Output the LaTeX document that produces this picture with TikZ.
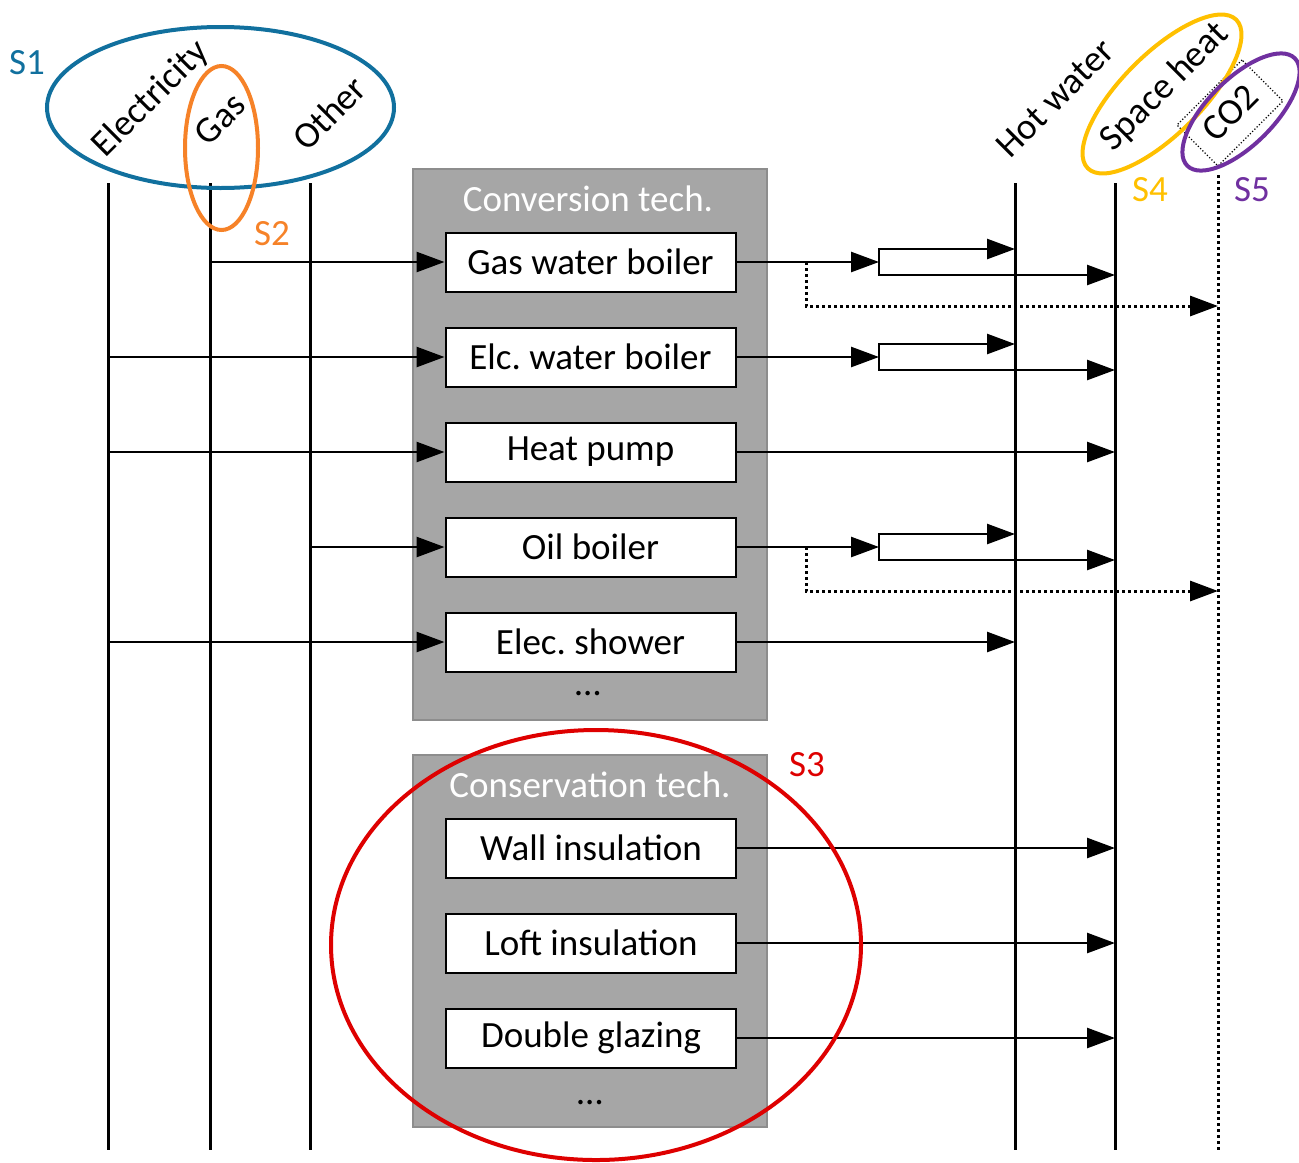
\documentclass[tikz,border=0pt]{standalone}
\usepackage{fontspec}
\setmainfont{Carlito}
\frenchspacing
\usetikzlibrary{arrows.meta,positioning,calc}
\definecolor{grpgray}{RGB}{166,166,166}
\definecolor{sOne}{RGB}{17,112,158}
\definecolor{sTwo}{RGB}{246,130,40}
\definecolor{sThree}{RGB}{222,0,0}
\definecolor{sFour}{RGB}{255,192,0}
\definecolor{sFive}{RGB}{112,48,160}
\tikzset{
tech/.style = {draw, fill=white, line width=1pt, rectangle, minimum height=29.5pt, minimum width=145pt, inner sep=0pt},
group/.style = {fill=grpgray, draw=grpgray!85!black, line width=0.6pt},
grouptitle/.style = {text=white},
carrier/.style = {line width=1.5pt},
flow/.style = {->, line width=1.3pt},
emis/.style = {->, line width=1.5pt, dash pattern=on 1.5pt off 1.5pt},
setline/.style = {line width=2pt}
}

\begin{document}
\begin{tikzpicture}[x=0.5pt, y=-0.5pt, node distance=17pt, >={Triangle[length=14pt,width=10pt]}, font=\fontsize{18.5}{20}\selectfont]
  \useasboundingbox (0,0) rectangle (1299,1162);

  % technology groups
  \draw[group] (413,169) rectangle (767,720);
  \draw[group] (413,755) rectangle (767,1127);

  \node [grouptitle]             (conv)     at (588,199)   {Conversion tech.};
  \node [tech]                   (gwb)      at (590.5,262) {Gas water boiler};
  \node [tech, below=of gwb]     (ewb)      {Elc. water boiler};
  \node [tech, below=of ewb]     (hp)       {Heat pump};
  \node [tech, below=of hp]      (oil)      {Oil boiler};
  \node [tech, below=of oil]     (shower)   {Elec. shower};
  \node                          (convdots) at (588,694)   {\ldots};

  \node [grouptitle]             (cons)     at (590,785)   {Conservation tech.};
  \node [tech]                   (wall)     at (591,848)   {Wall insulation};
  \node [tech, below=of wall]    (loft)     {Loft insulation};
  \node [tech, below=of loft]    (glaz)     {Double glazing};
  \node                          (consdots) at (590,1103)  {\ldots};

  % carriers and services
  \coordinate (elec)  at (108,183);
  \coordinate (gas)   at (210,183);
  \coordinate (other) at (310,183);
  \coordinate (hotw)  at (1015,183);
  \coordinate (heat)  at (1115,183);
  \coordinate (co2)   at (1218,175);
  \coordinate (floor) at (0,1150);
  \coordinate (fork)  at (879,0);
  \coordinate (tap)   at (806,0);

  \foreach \c in {elec,gas,other,hotw,heat}
    \draw [carrier] (\c) -- (\c |- floor);
  \draw [carrier, dash pattern=on 1.5pt off 1.5pt] (co2) -- (co2 |- floor);

  \node [rotate=45] (lelec)  at (151,99)   {Electricity};
  \node [rotate=45] (lgas)   at (220,119)  {Gas};
  \node [rotate=45] (lother) at (329,113)  {Other};
  \node [rotate=45] (lhotw)  at (1055,98)  {Hot water};
  \node [rotate=45] (lheat)  at (1165,87)  {Space heat};
  \node [rotate=45, draw, densely dotted, line width=0.6pt, minimum width=46pt, minimum height=29pt] (lco2) at (1230,113) {CO2};

  % inputs
  \draw [flow] (gas |- gwb.west)      -- (gwb.west);
  \draw [flow] (elec |- ewb.west)     -- (ewb.west);
  \draw [flow] (elec |- hp.west)      -- (hp.west);
  \draw [flow] (other |- oil.west)    -- (oil.west);
  \draw [flow] (elec |- shower.west)  -- (shower.west);

  % outputs
  \foreach \t in {gwb,ewb,oil} {
    \draw [flow] (\t.east) -- (fork |- \t.east);
    \path (fork |- \t.east) ++(0,-13) coordinate (\t-hi) ++(0,26) coordinate (\t-lo);
    \draw [flow, <->] (hotw |- \t-hi) -- (\t-hi) -- (\t-lo) -- (heat |- \t-lo);
  }
  \foreach \t in {gwb,oil} {
    \draw [emis] (tap |- \t.east) -- ++(0,44) coordinate (\t-em) -- (co2 |- \t-em);
  }
  \draw [flow] (hp.east)     -- (heat |- hp.east);
  \draw [flow] (shower.east) -- (hotw |- shower.east);
  \foreach \t in {wall,loft,glaz}
    \draw [flow] (\t.east) -- (heat |- \t.east);

  % scopes
  \draw [setline, sOne]   (220.5,107.5) ellipse [x radius=173.5, y radius=80.5];
  \draw [setline, sTwo]   (221.5,148) ellipse [x radius=36.5, y radius=82];
  \draw [setline, sThree] (596,945) ellipse [x radius=265, y radius=215];
  \draw [setline, sFour, rotate around={45:(1162,94)}] (1162,94) ellipse [x radius=105, y radius=40];
  \draw [setline, sFive, rotate around={45:(1241,112)}] (1241,112) ellipse [x radius=76, y radius=33];

  \node [text=sOne]   (s1) at (27,63)    {S1};
  \node [text=sTwo]   (s2) at (272,234)  {S2};
  \node [text=sThree] (s3) at (807,765)  {S3};
  \node [text=sFour]  (s4) at (1150,190) {S4};
  \node [text=sFive]  (s5) at (1252,190) {S5};
\end{tikzpicture}
\end{document}
